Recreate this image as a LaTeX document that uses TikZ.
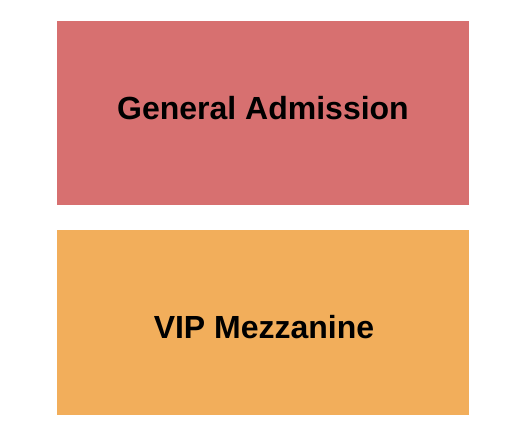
\documentclass[tikz,border=0pt]{standalone}
\usepackage{fontspec}
\setmainfont{Liberation Sans}
\definecolor{gacol}{RGB}{215,112,112}
\definecolor{vipcol}{RGB}{242,174,91}
\begin{document}
\begin{tikzpicture}[x=1pt,y=-1pt,
  section/.style={draw=none,anchor=north west,inner sep=0pt,outer sep=0pt,minimum width=412pt,minimum height=184pt},
  label/.style={font=\fontsize{32}{36}\selectfont\bfseries,text=black,inner sep=0pt,anchor=base}]
\useasboundingbox (0,0) rectangle (525,444);
\node[section,fill=gacol] (ga) at (57,21) {};
\node[section,fill=vipcol,minimum height=185pt] (vip) at (57,230) {};
\node[label] (galabel) at ([yshift=-6.5pt]ga.center) {General Admission};
\node[label] (viplabel) at ([xshift=1pt,yshift=-16pt]vip.center) {VIP Mezzanine};
\end{tikzpicture}
\end{document}
